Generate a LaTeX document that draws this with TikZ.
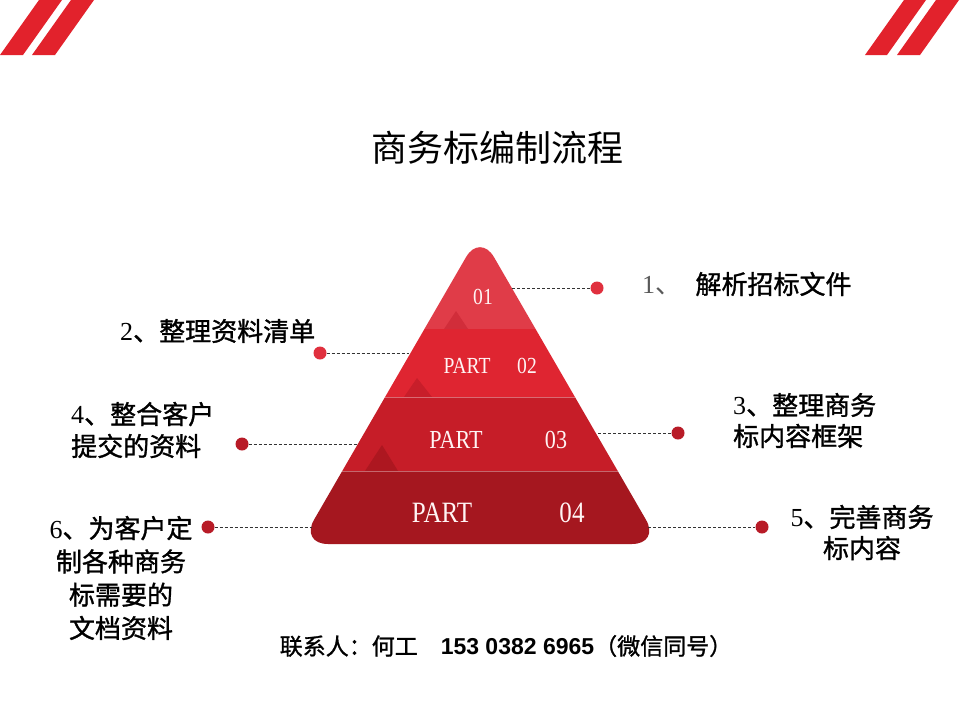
\documentclass[tikz,border=0pt]{standalone}
\usepackage{fontspec}
\setmainfont{Liberation Serif}
\newfontfamily\cjk{Noto Sans CJK SC}
\newfontfamily\cjkb[FakeBold=1.2]{Noto Sans CJK SC}
\newfontfamily\condserif[FakeStretch=0.85]{Liberation Serif}
\newfontfamily\arialf{Liberation Sans}
\definecolor{stripe}{HTML}{E2222C}
\definecolor{bandA}{HTML}{E03C48}
\definecolor{bandB}{HTML}{DF2531}
\definecolor{bandC}{HTML}{C61D28}
\definecolor{bandD}{HTML}{A5171F}
\definecolor{mA}{HTML}{D12D3A}
\definecolor{mB}{HTML}{C81E2A}
\definecolor{mC}{HTML}{AD1720}
\definecolor{dotbright}{HTML}{E0303E}
\definecolor{dotdark}{HTML}{B81B27}
\definecolor{numgray}{HTML}{595959}
\definecolor{ptextcol}{HTML}{FFF4F4}
\tikzset{
  dashline/.style={draw=black!80, line width=0.7pt, dash pattern=on 3pt off 2pt},
  dotnode/.style={circle, inner sep=0pt, minimum size=13pt},
  ptext/.style={text=ptextcol, inner sep=0pt},
  lbl/.style={inner sep=0pt, font=\fontsize{26}{32}\selectfont},
}
\newcommand{\cn}[1]{{\cjkb #1}}
\begin{document}
\begin{tikzpicture}[x=1pt,y=-1pt]
\useasboundingbox (0,0) rectangle (960,720);
\fill[white] (0,0) rectangle (960,720);
% corner stripes
\fill[stripe] (0,55) -- (23,55) -- (62,0) -- (39,0) -- cycle;
\fill[stripe] (32,55) -- (55,55) -- (94,0) -- (71,0) -- cycle;
\fill[stripe] (865,55) -- (887,55) -- (926,0) -- (904,0) -- cycle;
\fill[stripe] (897,55) -- (920,55) -- (959,0) -- (936,0) -- cycle;
% title
\node[inner sep=0pt, font=\fontsize{36}{40}\selectfont] (title) at (497,148) {{\cjk 商务标编制流程}};
% pyramid
\begin{scope}
\clip[rounded corners=28pt] (480,233) -- (660,544) -- (300,544) -- cycle;
\fill[bandA] (280,200) rectangle (680,329);
\fill[bandB] (280,329) rectangle (680,397);
\fill[bandC] (280,397) rectangle (680,471);
\fill[bandD] (280,471) rectangle (680,560);
\fill[mA] (444,329) -- (456,311) -- (468,329) -- cycle;
\fill[mB] (404,397) -- (417,378) -- (432,397) -- cycle;
\fill[mC] (365,471) -- (382,445) -- (398,471) -- cycle;
\draw[white, opacity=0.35, line width=0.6pt] (280,397) -- (680,397);
\draw[white, opacity=0.35, line width=0.6pt] (280,471) -- (680,471);
\end{scope}
\node[ptext, font=\condserif\fontsize{23}{23}\selectfont] (t1) at (483,297) {01};
\node[ptext, font=\condserif\fontsize{23}{23}\selectfont] (t2a) at (467,366) {PART};
\node[ptext, font=\condserif\fontsize{23}{23}\selectfont] (t2b) at (527,366) {02};
\node[ptext, font=\condserif\fontsize{26}{26}\selectfont] (t3a) at (456,440) {PART};
\node[ptext, font=\condserif\fontsize{26}{26}\selectfont] (t3b) at (556,440) {03};
\node[ptext, font=\condserif\fontsize{29.5}{29.5}\selectfont] (t4a) at (442,513) {PART};
\node[ptext, font=\condserif\fontsize{29.5}{29.5}\selectfont] (t4b) at (572,513) {04};
% connectors
\coordinate (e1) at (512,288);
\coordinate (e2) at (409,353);
\coordinate (e3) at (598,433);
\coordinate (e4) at (357,444);
\coordinate (e5) at (648,527);
\coordinate (e6) at (312,527);
\node[dotnode, fill=dotbright] (d1) at (597,288) {};
\node[dotnode, fill=dotbright] (d2) at (320,353) {};
\node[dotnode, fill=dotdark] (d3) at (678,433) {};
\node[dotnode, fill=dotdark] (d4) at (242,444) {};
\node[dotnode, fill=dotdark] (d5) at (762,527) {};
\node[dotnode, fill=dotdark] (d6) at (208,527) {};
\draw[dashline] (e1) -- (d1);
\draw[dashline] (d2) -- (e2);
\draw[dashline] (e3) -- (d3);
\draw[dashline] (d4) -- (e4);
\draw[dashline] (e5) -- (d5);
\draw[dashline] (d6) -- (e6);
% labels
\node[lbl, anchor=west] (l1) at (642,284) {\textcolor{numgray}{1{\cjk 、}}\hspace{0.55em}\cn{解析招标文件}};
\node[lbl, anchor=west] (l2) at (120,331) {2\cn{、整理资料清单}};
\node[lbl, anchor=west, align=left, font=\fontsize{26}{31}\selectfont] (l3) at (733,420.5) {3\cn{、整理商务}\\\cn{标内容框架}};
\node[lbl, anchor=west, align=left, font=\fontsize{26}{32}\selectfont] (l4) at (71,430) {4\cn{、整合客户}\\\cn{提交的资料}};
\node[lbl, align=center, font=\fontsize{26}{31}\selectfont] (l5) at (862,532.5) {5\cn{、完善商务}\\\cn{标内容}};
\node[lbl, align=center, font=\fontsize{26}{33.3}\selectfont] (l6) at (121,578) {6\cn{、为客户定}\\\cn{制各种商务}\\\cn{标需要的}\\\cn{文档资料}};
% contact
\node[inner sep=0pt, font=\fontsize{23}{26}\selectfont] (contact) at (506,646) {\cn{联系人：何工}\hspace{1em}{\arialf\bfseries 153 0382 6965}\cn{（微信同号）}};
\end{tikzpicture}
\end{document}
